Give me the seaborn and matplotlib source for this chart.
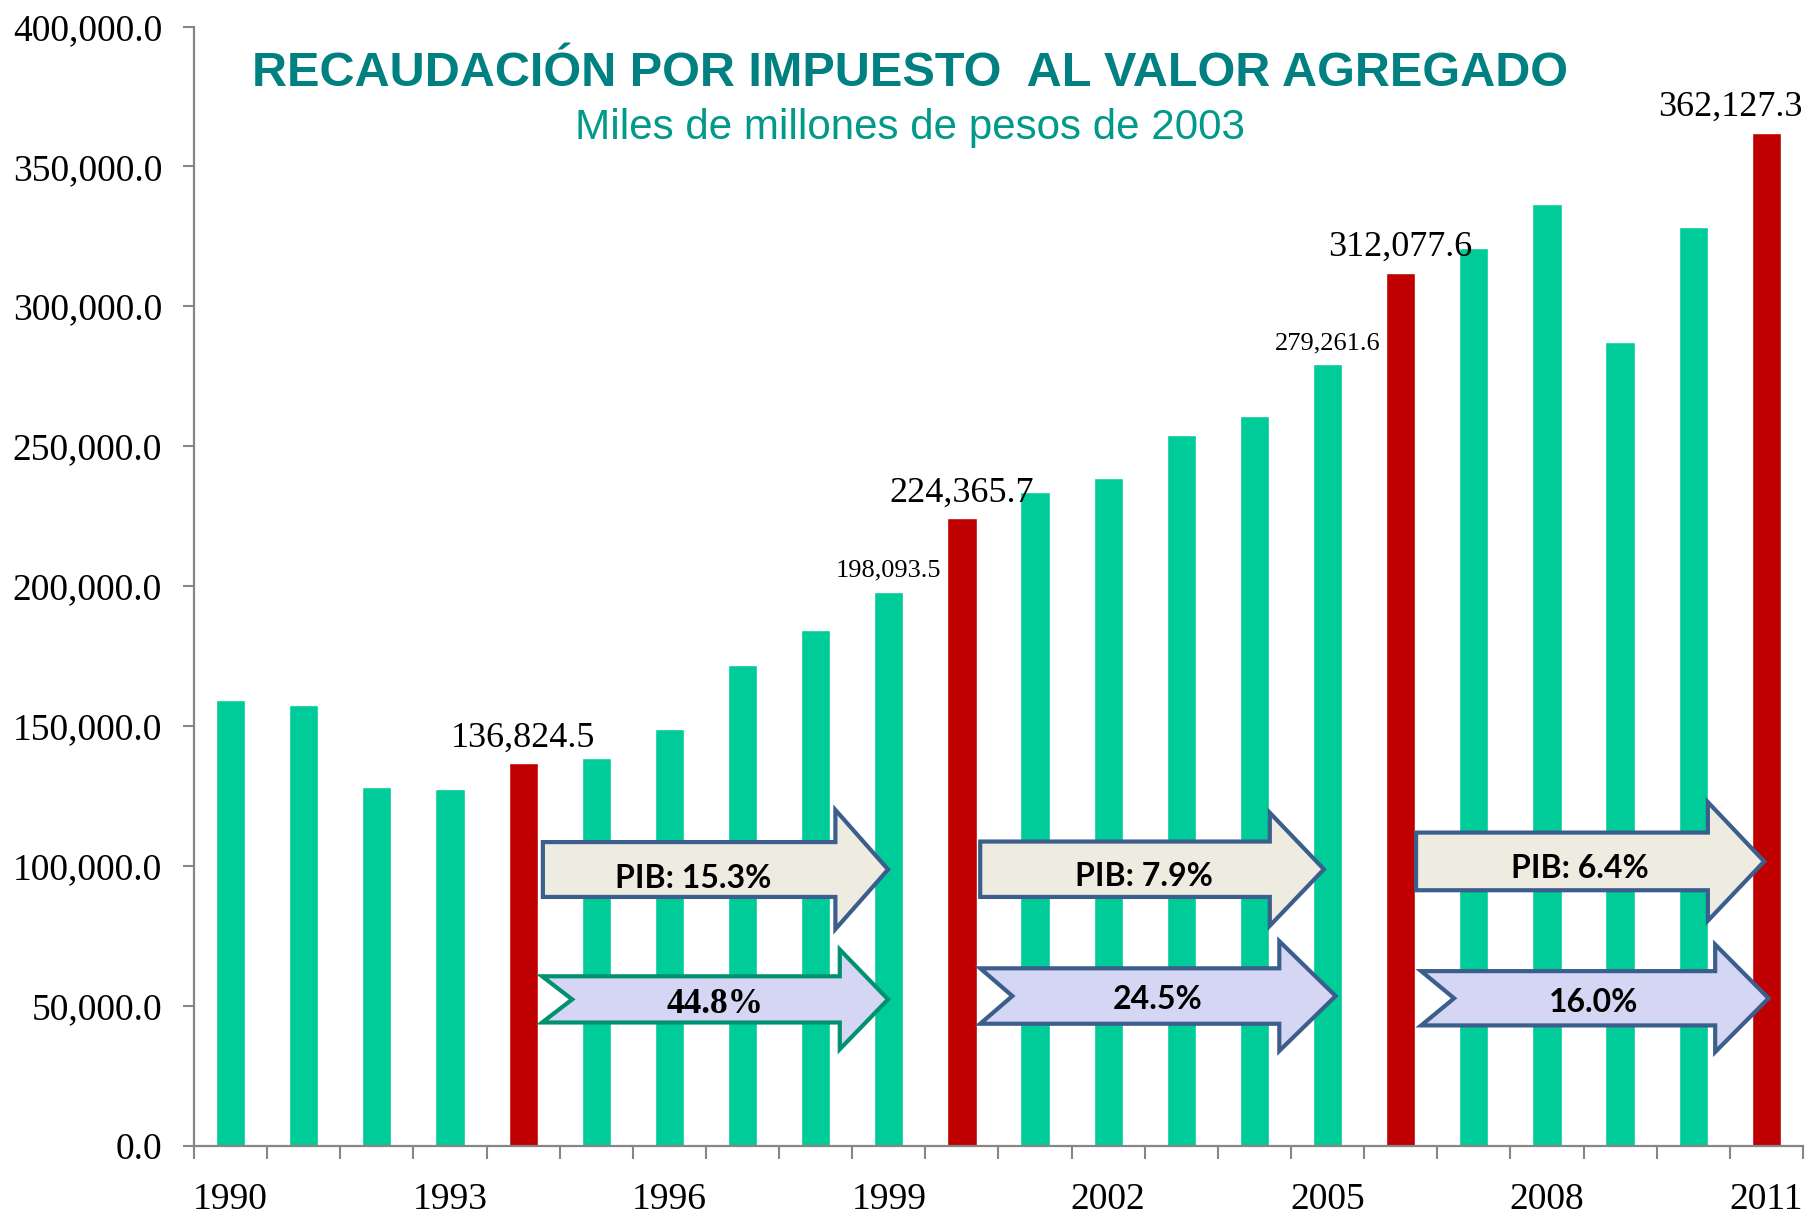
import numpy as np
import matplotlib.pyplot as plt
import seaborn as sns
from matplotlib.patches import Polygon

# datos: recaudacion IVA, miles de millones de pesos de 2003
anios = ["1990", "1991", "1992", "1993", "1994", "1995", "1996", "1997", "1998", "1999", "2000",
         "2001", "2002", "2003", "2004", "2005", "2006", "2007", "2008", "2009", "2010", "2011"]
recaudacion = [159200, 157500, 128200, 127400, 136824.5, 138600, 148900, 172000, 184300, 198093.5,
               224365.7, 233800, 238800, 254000, 261000, 279261.6, 312077.6, 320800, 336500, 287400,
               328200, 362127.3]
anios_rojos = ["1994", "2000", "2006", "2011"]
anios_etiqueta = ["1994", "1999", "2000", "2005", "2006", "2011"]
anios_eje = ["1990", "1993", "1996", "1999", "2002", "2005", "2008", "2011"]
texto_pib = ["PIB: 15.3%", "PIB: 7.9%", "PIB: 6.4%"]
texto_rec = ["44.8%", "24.5%", "16.0%"]

verde = "#00CC99"
rojo = "#C00000"
gris = "#868686"
colores = [rojo if a in anios_rojos else verde for a in anios]

sns.set_style("white")
plt.rcParams["font.family"] = ["Liberation Serif", "DejaVu Serif"]
plt.rcParams["text.color"] = "black"
plt.rcParams["xtick.labelcolor"] = "black"
plt.rcParams["ytick.labelcolor"] = "black"

fig = plt.figure(figsize=(18.1, 12.17), dpi=100)
ax = fig.add_axes([0.1072, 0.0583, 0.8889, 0.9199])

sns.barplot(x=anios, y=recaudacion, hue=anios, palette=colores, legend=False,
            width=0.4, saturation=1, ax=ax, zorder=2)

ax.set_xlim(-0.5, 21.5)
ax.set_ylim(0, 400000)
ax.set_yticks(np.arange(0, 400001, 50000))
ax.yaxis.set_major_formatter(lambda v, p: f"{v:,.1f}")
ax.tick_params(axis="y", left=True, length=8, width=1.5, color=gris, pad=15, labelsize=27,
               labelcolor="black")

pos = [anios.index(a) for a in anios_eje]
ax.set_xticks(pos)
ax.set_xticklabels(anios_eje)
ax.tick_params(axis="x", which="major", bottom=True, length=0, pad=26, labelsize=27,
               labelcolor="black")
ax.set_xticks(np.arange(-0.5, 22, 1), minor=True)
ax.tick_params(axis="x", which="minor", bottom=True, length=9, width=1.5, color=gris,
               direction="out")
ax.set_xlabel("")
ax.set_ylabel("")

for s in ["top", "right"]:
    ax.spines[s].set_visible(False)
for s in ["left", "bottom"]:
    ax.spines[s].set_color(gris)
    ax.spines[s].set_linewidth(1.6)

# etiquetas de valores
for a in anios_etiqueta:
    i = anios.index(a)
    v = recaudacion[i]
    grande = a in anios_rojos
    dx = -26 if a == "2011" else 0
    ax.annotate(f"{v:,.1f}", (i, v), xytext=(dx, 12 if grande else 11),
                textcoords="offset points", ha="center", va="baseline", color="black",
                fontsize=26 if grande else 19, zorder=6, annotation_clip=False)


def flecha(x0, x1, yc, bh, hh, hl, muesca, fc, ec):
    xh = x1 - hl
    pts = [(x0, yc + bh), (xh, yc + bh), (xh, yc + hh), (x1, yc),
           (xh, yc - hh), (xh, yc - bh), (x0, yc - bh)]
    if muesca:
        pts.append((x0 + muesca, yc))
    ax.add_patch(Polygon(pts, closed=True, fc=fc, ec=ec, lw=3, joinstyle="miter", zorder=5))


azul = "#3B5E8C"
beige = "#EEECE1"
lila = "#D5D6F3"

# flechas PIB
flecha(4.27, 8.99, 98800, 9800, 21300, 0.72, 0, beige, azul)
flecha(10.25, 14.95, 98900, 9900, 20200, 0.74, 0, beige, azul)
flecha(16.21, 20.97, 101700, 10300, 21200, 0.77, 0, beige, azul)
# flechas recaudacion
flecha(4.26, 8.99, 52400, 8250, 17800, 0.66, 0.41, lila, "#009270")
flecha(10.25, 15.11, 53600, 9900, 19600, 0.77, 0.44, lila, azul)
flecha(16.28, 21.03, 52800, 9700, 19200, 0.73, 0.45, lila, azul)

sans = ["Lato", "DejaVu Sans"]
pib_x = [6.32, 12.49, 18.45]
pib_y = [95600, 96300, 99200]
for x, y, t in zip(pib_x, pib_y, texto_pib):
    ax.text(x, y, t, ha="center", va="center", fontsize=23, fontweight="bold",
            family=sans, color="black", zorder=7)

rec_x = [6.63, 12.68, 18.64]
rec_y = [50600, 52200, 51200]
for k, (x, y, t) in enumerate(zip(rec_x, rec_y, texto_rec)):
    if k == 0:
        ax.text(x, y, t, ha="center", va="center", fontsize=25.5, fontweight="bold",
                color="black", zorder=7)
    else:
        ax.text(x, y, t, ha="center", va="center", fontsize=23, fontweight="bold",
                family=sans, color="black", zorder=7)

fig.text(910 / 1810, 1 - 74 / 1217, "RECAUDACIÓN POR IMPUESTO  AL VALOR AGREGADO",
         ha="center", va="center", fontsize=35, fontweight="bold", color="#008080",
         family=["Liberation Sans", "DejaVu Sans"])
fig.text(910 / 1810, 1 - 128 / 1217, "Miles de millones de pesos de 2003",
         ha="center", va="center", fontsize=30.3, color="#00998A",
         family=["Liberation Sans", "DejaVu Sans"])

fig.savefig("out.png", dpi=100)
